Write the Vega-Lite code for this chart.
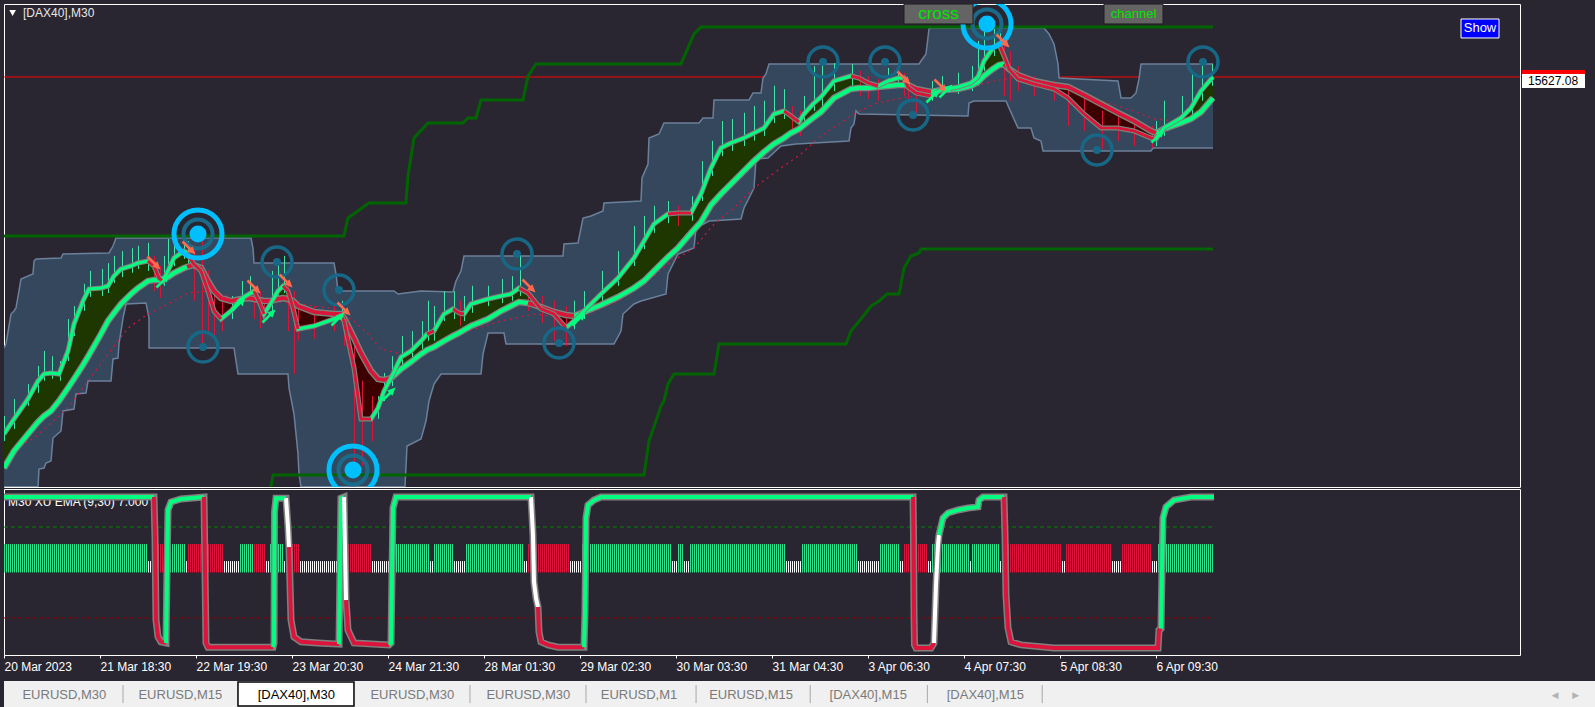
{
"$schema":"https://vega.github.io/schema/vega-lite/v6.json",
"background":"#2a2631",
"padding":{"left":3,"top":3,"right":0,"bottom":0},
"config":{"view":{"stroke":"#ffffff","strokeWidth":1},"axis":{"labelFont":"Liberation Sans","labelFontSize":12,"labelColor":"#e8e8e8","tickColor":"#e8e8e8","domain":false,"grid":false}},
"datasets":{
"bu":[{"i":0,"p":15072.0},{"i":1,"p":15080.3},{"i":3.5,"p":15142.5},{"i":5,"p":15148.8},{"i":6,"p":15155.0},{"i":7.5,"p":15190.3},{"i":8.5,"p":15215.2},{"i":14.5,"p":15225.5},{"i":15,"p":15252.5},{"i":16,"p":15256.7},{"i":28.5,"p":15258.7},{"i":29.5,"p":15267.0},{"i":52.5,"p":15269.1},{"i":54.5,"p":15283.6},{"i":56,"p":15300.2},{"i":123.5,"p":15300.2},{"i":124.5,"p":15279.5},{"i":125,"p":15248.4},{"i":165,"p":15248.4},{"i":166,"p":15225.5},{"i":167,"p":15190.3},{"i":195,"p":15190.3},{"i":197,"p":15184.0},{"i":208.5,"p":15190.3},{"i":224.5,"p":15188.2},{"i":226,"p":15211.0},{"i":228.5,"p":15231.8},{"i":230,"p":15262.9},{"i":279.5,"p":15262.9},{"i":280,"p":15287.8},{"i":287,"p":15289.9},{"i":289.5,"p":15341.7},{"i":293.5,"p":15345.9},{"i":299.5,"p":15356.3},{"i":300,"p":15372.9},{"i":318.5,"p":15377.0},{"i":319,"p":15424.7},{"i":322,"p":15453.8},{"i":322.5,"p":15507.7},{"i":327.5,"p":15516.0},{"i":330,"p":15538.9},{"i":347.5,"p":15538.9},{"i":349.5,"p":15549.2},{"i":354.5,"p":15549.2},{"i":355,"p":15586.6},{"i":372.5,"p":15586.6},{"i":374.5,"p":15601.1},{"i":378.5,"p":15601.1},{"i":379.5,"p":15632.2},{"i":381,"p":15640.5},{"i":382.5,"p":15661.3},{"i":457.5,"p":15661.3},{"i":458.5,"p":15667.5},{"i":461,"p":15682.0},{"i":462.5,"p":15733.9},{"i":463.5,"p":15736.0},{"i":520,"p":15736.0},{"i":522.5,"p":15723.5},{"i":525,"p":15702.8},{"i":527,"p":15661.3},{"i":527.5,"p":15632.2},{"i":557,"p":15626.0},{"i":558.5,"p":15590.7},{"i":563.5,"p":15590.7},{"i":566,"p":15601.1},{"i":567.5,"p":15630.2},{"i":568.5,"p":15661.3},{"i":604.5,"p":15661.3}],
"bl":[{"i":0,"p":14784},{"i":17,"p":14784},{"i":17.5,"p":14820.9},{"i":20,"p":14823.0},{"i":21,"p":14833.4},{"i":23.5,"p":14837.5},{"i":24.5,"p":14885.2},{"i":28.5,"p":14899.8},{"i":29.5,"p":14941.3},{"i":35,"p":14945.4},{"i":36,"p":14976.5},{"i":41,"p":14978.6},{"i":42,"p":15003.5},{"i":53.5,"p":15003.5},{"i":54.5,"p":15049.2},{"i":57,"p":15051.2},{"i":57.5,"p":15080.3},{"i":59.5,"p":15134.2},{"i":61,"p":15163.3},{"i":71,"p":15165.4},{"i":72.5,"p":15134.2},{"i":72.5,"p":15072.0},{"i":115,"p":15072.0},{"i":117,"p":15018.0},{"i":142,"p":15018.0},{"i":142.5,"p":14989.0},{"i":145,"p":14935.0},{"i":147,"p":14852.0},{"i":147.5,"p":14810.5},{"i":148.5,"p":14784},{"i":200.5,"p":14784},{"i":201.5,"p":14868.6},{"i":208.5,"p":14883.2},{"i":211,"p":14920.5},{"i":212.5,"p":14962.0},{"i":215,"p":14997.3},{"i":218.5,"p":15018.0},{"i":238.5,"p":15018.0},{"i":239.5,"p":15059.5},{"i":242,"p":15103.1},{"i":250,"p":15103.1},{"i":251,"p":15080.3},{"i":305,"p":15080.3},{"i":308.5,"p":15107.3},{"i":309.5,"p":15142.5},{"i":315,"p":15163.3},{"i":318.5,"p":15169.5},{"i":331,"p":15184.0},{"i":332,"p":15225.5},{"i":337,"p":15267.0},{"i":345,"p":15279.5},{"i":346,"p":15321.0},{"i":352.5,"p":15335.5},{"i":368.5,"p":15339.7},{"i":370,"p":15362.5},{"i":375,"p":15404.0},{"i":376,"p":15464.2},{"i":382,"p":15466.2},{"i":388.5,"p":15491.1},{"i":396,"p":15495.3},{"i":422.5,"p":15501.5},{"i":423.5,"p":15528.5},{"i":425,"p":15536.8},{"i":426,"p":15563.8},{"i":427.5,"p":15557.5},{"i":482,"p":15553.4},{"i":482.5,"p":15580.4},{"i":485,"p":15584.5},{"i":501,"p":15584.5},{"i":502.5,"p":15570.0},{"i":507,"p":15528.5},{"i":513.5,"p":15528.5},{"i":515,"p":15507.7},{"i":518.5,"p":15501.5},{"i":519.5,"p":15480.8},{"i":573.5,"p":15480.8},{"i":574.5,"p":15487.0},{"i":604.5,"p":15487.0}],
"gu":[{"i":0,"p":15304.4},{"i":170,"p":15304.4},{"i":172,"p":15341.7},{"i":175.5,"p":15352.1},{"i":182.5,"p":15372.9},{"i":201,"p":15372.9},{"i":202,"p":15428.9},{"i":205,"p":15507.7},{"i":212,"p":15538.9},{"i":229.5,"p":15538.9},{"i":232,"p":15549.2},{"i":236,"p":15549.2},{"i":238.5,"p":15586.6},{"i":259.5,"p":15586.6},{"i":262,"p":15636.4},{"i":266,"p":15661.3},{"i":338.5,"p":15661.3},{"i":343.5,"p":15709.0},{"i":345,"p":15723.5},{"i":348.5,"p":15738.1},{"i":604.5,"p":15738.1}],
"gl":[{"i":133.5,"p":14784},{"i":134.5,"p":14808.5},{"i":320,"p":14808.5},{"i":322.5,"p":14879.0},{"i":326,"p":14920.5},{"i":328.5,"p":14951.6},{"i":330,"p":14962.0},{"i":332,"p":14997.3},{"i":335,"p":15018.0},{"i":355,"p":15018.0},{"i":357.5,"p":15080.3},{"i":421,"p":15080.3},{"i":423.5,"p":15107.3},{"i":428.5,"p":15132.2},{"i":433.5,"p":15159.1},{"i":437.5,"p":15169.5},{"i":441.5,"p":15184.0},{"i":447.5,"p":15184.0},{"i":448.5,"p":15204.8},{"i":450,"p":15238.0},{"i":453.5,"p":15262.9},{"i":457.5,"p":15269.1},{"i":458.5,"p":15277.4},{"i":604.5,"p":15277.4}],
"du":[{"i":0,"p":14852.0},{"i":15,"p":14885.2},{"i":32,"p":14947.5},{"i":42,"p":15003.5},{"i":52,"p":15059.5},{"i":62,"p":15113.5},{"i":72,"p":15142.5},{"i":82,"p":15163.3},{"i":92,"p":15186.1},{"i":102,"p":15190.3},{"i":115,"p":15175.7},{"i":132,"p":15169.5},{"i":148.5,"p":15163.3},{"i":165,"p":15152.9},{"i":175,"p":15128.0},{"i":182,"p":15101.0},{"i":188.5,"p":15069.9},{"i":198.5,"p":15059.5},{"i":215,"p":15080.3},{"i":232,"p":15107.3},{"i":248.5,"p":15128.0},{"i":265,"p":15142.5},{"i":282,"p":15134.2},{"i":292,"p":15142.5},{"i":307,"p":15169.5},{"i":320,"p":15204.8},{"i":332,"p":15246.3},{"i":345,"p":15279.5},{"i":355,"p":15329.3},{"i":365,"p":15362.5},{"i":375,"p":15404.0},{"i":388.5,"p":15445.5},{"i":398.5,"p":15474.5},{"i":408.5,"p":15511.9},{"i":425,"p":15557.5},{"i":435,"p":15578.3},{"i":448.5,"p":15590.7},{"i":465,"p":15601.1},{"i":482,"p":15611.5},{"i":495,"p":15626.0},{"i":505,"p":15632.2},{"i":515,"p":15630.2},{"i":532,"p":15611.5},{"i":548.5,"p":15584.5},{"i":565,"p":15563.8},{"i":575,"p":15547.2},{"i":585,"p":15543.0},{"i":604.5,"p":15580.4}],
"ms":[{"i":0,"f":14893.5,"s":14823.0},{"i":5,"f":14924.6,"s":14858.3},{"i":12,"f":14966.2,"s":14893.5},{"i":17,"f":15003.5,"s":14918.4},{"i":20,"f":15018.0,"s":14930.9},{"i":23.5,"f":15020.1,"s":14941.3},{"i":27.5,"f":15018.0,"s":14962.0},{"i":32,"f":15065.8,"s":14989.0},{"i":35,"f":15121.8,"s":15007.7},{"i":39.5,"f":15169.5,"s":15036.7},{"i":42.5,"f":15194.4,"s":15057.5},{"i":48.5,"f":15196.5,"s":15101.0},{"i":52,"f":15200.6,"s":15128.0},{"i":55,"f":15221.4,"s":15144.6},{"i":58.5,"f":15235.9,"s":15163.3},{"i":63.5,"f":15242.1,"s":15184.0},{"i":67,"f":15248.4,"s":15196.5},{"i":72,"f":15252.5,"s":15211.0,"fr":1},{"i":75,"f":15242.1,"s":15213.1,"fr":1},{"i":77.5,"f":15217.2,"s":15213.1,"fr":1},{"i":79.5,"f":15211.0,"s":15215.2,"fr":1},{"i":82,"f":15231.8,"s":15219.3},{"i":85,"f":15258.7,"s":15227.6},{"i":90,"f":15273.3,"s":15238.0},{"i":91.5,"f":15269.1,"s":15240.1,"fr":2,"sr":1},{"i":94.5,"f":15248.4,"s":15244.2,"fr":2,"sr":1,"z":1},{"i":98.5,"f":15231.8,"s":15238.0,"fr":2,"sr":1,"z":1},{"i":102,"f":15190.3,"s":15211.0,"fr":2,"sr":1,"z":1},{"i":105,"f":15148.8,"s":15190.3,"fr":2,"sr":1,"z":1},{"i":108.5,"f":15132.2,"s":15175.7,"fr":2,"sr":1,"z":1},{"i":113.5,"f":15148.8,"s":15169.5,"sr":1,"z":1},{"i":118.5,"f":15173.7,"s":15173.7,"sr":1,"z":1},{"i":122.5,"f":15184.0,"s":15175.7,"sr":1},{"i":125,"f":15190.3,"s":15173.7,"fr":3,"sr":1,"z":2},{"i":127.5,"f":15169.5,"s":15171.6,"fr":3,"sr":1,"z":2},{"i":130,"f":15142.5,"s":15169.5,"fr":3,"sr":1,"z":2},{"i":133.5,"f":15165.4,"s":15169.5,"sr":1,"z":2},{"i":137,"f":15190.3,"s":15173.7,"sr":1,"z":2},{"i":139.5,"f":15200.6,"s":15175.7,"fr":4,"sr":1},{"i":142,"f":15190.3,"s":15173.7,"fr":4,"sr":1,"z":3},{"i":144.5,"f":15155.0,"s":15169.5,"fr":4,"sr":1,"z":3},{"i":147,"f":15111.4,"s":15159.1,"fr":4,"sr":1,"z":3},{"i":155,"f":15117.6,"s":15146.7,"sr":1,"z":3},{"i":165,"f":15132.2,"s":15142.5,"sr":1,"z":3},{"i":168.5,"f":15138.4,"s":15142.5,"fr":5,"sr":1,"z":3},{"i":170,"f":15128.0,"s":15134.2,"fr":5,"sr":1,"z":3},{"i":175,"f":15030.5,"s":15092.7,"fr":5,"sr":1,"z":3},{"i":178.5,"f":14924.6,"s":15061.6,"fr":5,"sr":1,"z":3},{"i":183.5,"f":14924.6,"s":15024.3,"fr":5,"sr":1,"z":3},{"i":187,"f":14947.5,"s":15007.7,"sr":1,"z":3},{"i":190,"f":14982.8,"s":15005.6,"sr":1,"z":3},{"i":193.5,"f":15009.7,"s":15009.7,"sr":1,"z":3},{"i":198.5,"f":15053.3,"s":15028.4},{"i":203.5,"f":15065.8,"s":15042.9},{"i":208.5,"f":15086.5,"s":15059.5},{"i":211.5,"f":15101.0,"s":15067.8,"fr":6},{"i":215,"f":15107.3,"s":15074.0,"fr":6},{"i":220,"f":15142.5,"s":15086.5},{"i":224.5,"f":15152.9,"s":15096.9,"fr":7},{"i":227.5,"f":15144.6,"s":15103.1,"fr":7},{"i":230,"f":15142.5,"s":15109.3,"fr":7},{"i":233.5,"f":15163.3,"s":15117.6},{"i":242,"f":15173.7,"s":15132.2},{"i":248.5,"f":15179.9,"s":15148.8},{"i":253.5,"f":15184.0,"s":15159.1},{"i":257.5,"f":15196.5,"s":15167.4,"fr":8},{"i":262,"f":15186.1,"s":15165.4,"fr":8,"sr":2,"z":4},{"i":268.5,"f":15152.9,"s":15157.0,"fr":8,"sr":2,"z":4},{"i":275,"f":15142.5,"s":15146.7,"fr":8,"sr":2,"z":4},{"i":281,"f":15113.5,"s":15140.5,"fr":8,"sr":2,"z":4},{"i":285,"f":15128.0,"s":15138.4,"sr":2,"z":4},{"i":290,"f":15148.8,"s":15146.7,"z":4},{"i":298.5,"f":15184.0,"s":15161.2},{"i":307,"f":15217.2,"s":15177.8},{"i":315,"f":15258.7,"s":15196.5},{"i":320,"f":15294.0,"s":15211.0},{"i":325,"f":15329.3,"s":15231.8},{"i":332,"f":15350.0,"s":15260.8,"fr":9},{"i":337,"f":15352.1,"s":15279.5,"fr":9},{"i":343.5,"f":15352.1,"s":15310.6,"fr":9},{"i":348.5,"f":15391.5,"s":15333.4},{"i":353.5,"f":15445.5,"s":15368.7},{"i":358.5,"f":15487.0,"s":15391.5},{"i":363.5,"f":15497.4,"s":15412.3},{"i":370,"f":15507.7,"s":15439.3},{"i":375,"f":15518.1,"s":15460.0},{"i":380,"f":15528.5,"s":15478.7},{"i":385,"f":15557.5,"s":15495.3},{"i":390,"f":15563.8,"s":15507.7,"fr":10},{"i":393.5,"f":15553.4,"s":15518.1,"fr":10},{"i":397.5,"f":15540.9,"s":15526.4,"fr":10},{"i":400,"f":15557.5,"s":15534.7},{"i":404.5,"f":15578.3,"s":15549.2},{"i":408.5,"f":15592.8,"s":15561.7},{"i":415,"f":15626.0,"s":15590.7},{"i":423.5,"f":15636.4,"s":15609.4,"fr":11},{"i":427.5,"f":15632.2,"s":15611.5,"fr":11},{"i":432,"f":15621.9,"s":15611.5,"fr":11},{"i":437,"f":15615.6,"s":15613.6,"fr":11},{"i":442,"f":15626.0,"s":15615.6},{"i":447,"f":15632.2,"s":15617.7},{"i":450,"f":15632.2,"s":15617.7,"fr":12,"z":5},{"i":452,"f":15613.6,"s":15617.7,"fr":12,"sr":3,"z":5},{"i":456,"f":15601.1,"s":15609.4,"fr":12,"sr":3,"z":5},{"i":463.5,"f":15594.9,"s":15603.2,"fr":12,"sr":3,"z":5},{"i":468.5,"f":15607.3,"s":15607.3,"z":5},{"i":477,"f":15613.6,"s":15609.4},{"i":483.5,"f":15621.9,"s":15615.6},{"i":487,"f":15634.3,"s":15623.9},{"i":490,"f":15667.5,"s":15636.4},{"i":494.5,"f":15694.5,"s":15650.9},{"i":497.5,"f":15702.8,"s":15659.2,"fr":13},{"i":500,"f":15677.9,"s":15661.3,"fr":13,"sr":4,"z":6},{"i":502.5,"f":15650.9,"s":15650.9,"fr":13,"sr":4,"z":6},{"i":507,"f":15630.2,"s":15638.5,"fr":13,"sr":4,"z":6},{"i":515,"f":15619.8,"s":15626.0,"fr":13,"sr":4,"z":6},{"i":525,"f":15609.4,"s":15617.7,"fr":13,"sr":4,"z":6},{"i":532,"f":15590.7,"s":15613.6,"fr":13,"sr":4,"z":6},{"i":540,"f":15557.5,"s":15597.0,"fr":13,"sr":4,"z":6},{"i":548.5,"f":15528.5,"s":15578.3,"fr":13,"sr":4,"z":6},{"i":557,"f":15528.5,"s":15559.6,"fr":13,"sr":4,"z":6},{"i":565,"f":15522.3,"s":15543.0,"fr":13,"sr":4,"z":6},{"i":573.5,"f":15507.7,"s":15522.3,"fr":13,"sr":4,"z":6},{"i":576,"f":15505.7,"s":15518.1,"fr":13,"sr":4,"z":6},{"i":580,"f":15528.5,"s":15526.4,"z":6},{"i":588.5,"f":15549.2,"s":15538.9},{"i":593.5,"f":15570.0,"s":15547.2},{"i":598.5,"f":15605.3,"s":15561.7},{"i":604.5,"f":15634.3,"s":15590.7}],
"cd":[{"i":0,"h":14931,"l":14879,"c":"g"},{"i":5,"h":14966,"l":14904,"c":"g"},{"i":12,"h":14997,"l":14952,"c":"g"},{"i":17,"h":15035,"l":14979,"c":"g"},{"i":20,"h":15066,"l":15004,"c":"g"},{"i":24,"h":15055,"l":15008,"c":"g"},{"i":28,"h":15045,"l":15004,"c":"g"},{"i":32,"h":15132,"l":15045,"c":"g"},{"i":35,"h":15159,"l":15097,"c":"g"},{"i":40,"h":15205,"l":15149,"c":"g"},{"i":43,"h":15232,"l":15178,"c":"g"},{"i":49,"h":15236,"l":15180,"c":"g"},{"i":52,"h":15248,"l":15186,"c":"g"},{"i":55,"h":15263,"l":15207,"c":"g"},{"i":59,"h":15273,"l":15219,"c":"g"},{"i":64,"h":15279,"l":15228,"c":"g"},{"i":67,"h":15284,"l":15236,"c":"g"},{"i":72,"h":15290,"l":15232,"c":"g"},{"i":75,"h":15263,"l":15190,"c":"r"},{"i":78,"h":15242,"l":15176,"c":"r"},{"i":80,"h":15263,"l":15201,"c":"g"},{"i":82,"h":15298,"l":15215,"c":"g"},{"i":85,"h":15315,"l":15242,"c":"g"},{"i":90,"h":15319,"l":15257,"c":"g"},{"i":92,"h":15294,"l":15248,"c":"g"},{"i":95,"h":15284,"l":15170,"c":"r"},{"i":99,"h":15304,"l":15072,"c":"r"},{"i":102,"h":15232,"l":15107,"c":"r"},{"i":105,"h":15190,"l":15097,"c":"r"},{"i":109,"h":15170,"l":15107,"c":"r"},{"i":114,"h":15180,"l":15132,"c":"g"},{"i":119,"h":15211,"l":15159,"c":"g"},{"i":123,"h":15221,"l":15170,"c":"g"},{"i":125,"h":15201,"l":15132,"c":"r"},{"i":128,"h":15190,"l":15113,"c":"r"},{"i":130,"h":15170,"l":15124,"c":"r"},{"i":134,"h":15232,"l":15149,"c":"g"},{"i":137,"h":15253,"l":15170,"c":"g"},{"i":140,"h":15263,"l":15186,"c":"g"},{"i":142,"h":15201,"l":15107,"c":"r"},{"i":145,"h":15190,"l":15018,"c":"r"},{"i":147,"h":15170,"l":15087,"c":"r"},{"i":155,"h":15159,"l":15091,"c":"r"},{"i":165,"h":15159,"l":15107,"c":"r"},{"i":169,"h":15170,"l":15124,"c":"g"},{"i":170,"h":15149,"l":15076,"c":"r"},{"i":175,"h":15087,"l":14817,"c":"r"},{"i":179,"h":15004,"l":14827,"c":"r"},{"i":184,"h":14972,"l":14879,"c":"r"},{"i":187,"h":14972,"l":14925,"c":"g"},{"i":190,"h":15020,"l":14962,"c":"g"},{"i":194,"h":15055,"l":14993,"c":"g"},{"i":199,"h":15097,"l":15035,"c":"g"},{"i":204,"h":15107,"l":15049,"c":"g"},{"i":209,"h":15128,"l":15070,"c":"g"},{"i":212,"h":15170,"l":15087,"c":"g"},{"i":215,"h":15159,"l":15087,"c":"g"},{"i":220,"h":15190,"l":15128,"c":"g"},{"i":225,"h":15190,"l":15132,"c":"g"},{"i":228,"h":15170,"l":15118,"c":"r"},{"i":230,"h":15180,"l":15128,"c":"g"},{"i":234,"h":15201,"l":15145,"c":"g"},{"i":242,"h":15201,"l":15159,"c":"g"},{"i":249,"h":15215,"l":15165,"c":"g"},{"i":254,"h":15221,"l":15170,"c":"g"},{"i":258,"h":15267,"l":15180,"c":"g"},{"i":262,"h":15201,"l":15149,"c":"r"},{"i":269,"h":15180,"l":15124,"c":"r"},{"i":275,"h":15170,"l":15087,"c":"r"},{"i":281,"h":15159,"l":15076,"c":"r"},{"i":285,"h":15170,"l":15111,"c":"g"},{"i":290,"h":15190,"l":15132,"c":"g"},{"i":299,"h":15232,"l":15170,"c":"g"},{"i":307,"h":15273,"l":15201,"c":"g"},{"i":315,"h":15325,"l":15242,"c":"g"},{"i":320,"h":15346,"l":15277,"c":"g"},{"i":325,"h":15367,"l":15311,"c":"g"},{"i":332,"h":15377,"l":15331,"c":"g"},{"i":337,"h":15367,"l":15325,"c":"r"},{"i":344,"h":15387,"l":15336,"c":"g"},{"i":349,"h":15460,"l":15377,"c":"g"},{"i":354,"h":15502,"l":15429,"c":"g"},{"i":359,"h":15543,"l":15470,"c":"g"},{"i":364,"h":15547,"l":15481,"c":"g"},{"i":370,"h":15560,"l":15491,"c":"g"},{"i":375,"h":15574,"l":15502,"c":"g"},{"i":380,"h":15585,"l":15512,"c":"g"},{"i":385,"h":15616,"l":15539,"c":"g"},{"i":390,"h":15609,"l":15547,"c":"g"},{"i":394,"h":15574,"l":15522,"c":"r"},{"i":398,"h":15564,"l":15512,"c":"r"},{"i":400,"h":15595,"l":15543,"c":"g"},{"i":405,"h":15657,"l":15564,"c":"g"},{"i":409,"h":15663,"l":15574,"c":"g"},{"i":415,"h":15663,"l":15605,"c":"g"},{"i":424,"h":15661,"l":15616,"c":"g"},{"i":428,"h":15647,"l":15595,"c":"r"},{"i":432,"h":15636,"l":15589,"c":"r"},{"i":437,"h":15630,"l":15585,"c":"r"},{"i":442,"h":15653,"l":15609,"c":"g"},{"i":447,"h":15657,"l":15616,"c":"g"},{"i":450,"h":15643,"l":15595,"c":"r"},{"i":452,"h":15630,"l":15585,"c":"r"},{"i":456,"h":15616,"l":15553,"c":"r"},{"i":464,"h":15626,"l":15585,"c":"g"},{"i":469,"h":15636,"l":15595,"c":"g"},{"i":477,"h":15643,"l":15599,"c":"g"},{"i":484,"h":15657,"l":15605,"c":"g"},{"i":487,"h":15709,"l":15616,"c":"g"},{"i":490,"h":15740,"l":15647,"c":"g"},{"i":495,"h":15734,"l":15678,"c":"g"},{"i":498,"h":15736,"l":15684,"c":"g"},{"i":500,"h":15709,"l":15595,"c":"r"},{"i":503,"h":15688,"l":15585,"c":"r"},{"i":507,"h":15657,"l":15605,"c":"r"},{"i":515,"h":15636,"l":15595,"c":"r"},{"i":525,"h":15626,"l":15585,"c":"r"},{"i":532,"h":15616,"l":15533,"c":"r"},{"i":540,"h":15595,"l":15522,"c":"r"},{"i":549,"h":15564,"l":15485,"c":"r"},{"i":557,"h":15553,"l":15502,"c":"r"},{"i":565,"h":15547,"l":15491,"c":"r"},{"i":574,"h":15533,"l":15487,"c":"r"},{"i":576,"h":15543,"l":15491,"c":"g"},{"i":580,"h":15585,"l":15512,"c":"g"},{"i":589,"h":15595,"l":15533,"c":"g"},{"i":594,"h":15647,"l":15553,"c":"g"},{"i":599,"h":15663,"l":15585,"c":"g"},{"i":604,"h":15661,"l":15616,"c":"g"}],
"rg":[{"i":97,"p":15308.5,"t":"B"},{"i":174.5,"p":14818.8,"t":"B"},{"i":491.5,"p":15744.3,"t":"B"},{"i":99.5,"p":15074.0,"t":"S"},{"i":136.5,"p":15250.4,"t":"S"},{"i":167.5,"p":15192.3,"t":"S"},{"i":256.5,"p":15267.0,"t":"S"},{"i":277.5,"p":15082.4,"t":"S"},{"i":409.5,"p":15665.4,"t":"S"},{"i":440.5,"p":15665.4,"t":"S"},{"i":454.5,"p":15555.5,"t":"S"},{"i":546.5,"p":15482.8,"t":"S"},{"i":599.5,"p":15665.4,"t":"S"}],
"ar":[{"i":75,"p":15248.4,"d":"s"},{"i":92.5,"p":15279.5,"d":"s"},{"i":125,"p":15198.6,"d":"s"},{"i":141,"p":15211.0,"d":"s"},{"i":170,"p":15152.9,"d":"s"},{"i":262.5,"p":15200.6,"d":"s"},{"i":450,"p":15632.2,"d":"s"},{"i":468.5,"p":15615.6,"d":"s"},{"i":499.5,"p":15709.0,"d":"s"},{"i":79.5,"p":15211.0,"d":"b"},{"i":117.5,"p":15163.3,"d":"b"},{"i":132.5,"p":15138.4,"d":"b"},{"i":167,"p":15132.2,"d":"b"},{"i":192.5,"p":14976.5,"d":"b"},{"i":287.5,"p":15132.2,"d":"b"},{"i":464.5,"p":15594.9,"d":"b"},{"i":471,"p":15605.3,"d":"b"},{"i":577,"p":15511.9,"d":"b"}],
"osc":[{"i":0,"v":19.9,"s":1,"c":"g"},{"i":75,"v":19.9,"s":1,"c":"g"},{"i":75,"v":19.9,"s":2,"c":"r"},{"i":75.5,"v":9.4,"s":2,"c":"r"},{"i":76,"v":-12.5,"s":2,"c":"r"},{"i":77,"v":-17,"s":2,"c":"r"},{"i":78.5,"v":-18.3,"s":2,"c":"r"},{"i":81,"v":-18.6,"s":2,"c":"r"},{"i":81,"v":-18.6,"s":3,"c":"g"},{"i":81.5,"v":0.7,"s":3,"c":"g"},{"i":82,"v":16.5,"s":3,"c":"g"},{"i":83.5,"v":18.6,"s":3,"c":"g"},{"i":88.5,"v":19.4,"s":3,"c":"g"},{"i":100,"v":19.9,"s":3,"c":"g"},{"i":100,"v":19.9,"s":4,"c":"r"},{"i":100.5,"v":0.7,"s":4,"c":"r"},{"i":101,"v":-18.6,"s":4,"c":"r"},{"i":102,"v":-19.7,"s":4,"c":"r"},{"i":134.5,"v":-19.7,"s":4,"c":"r"},{"i":134.5,"v":-19.7,"s":5,"c":"g"},{"i":135,"v":-18.6,"s":5,"c":"g"},{"i":135.25,"v":16,"s":5,"c":"g"},{"i":136,"v":19.6,"s":5,"c":"g"},{"i":141,"v":19.6,"s":5,"c":"g"},{"i":141,"v":19.6,"s":6,"c":"w"},{"i":142,"v":12,"s":6,"c":"w"},{"i":142.5,"v":6.7,"s":6,"c":"w"},{"i":142.5,"v":6.7,"s":7,"c":"r"},{"i":143.5,"v":-12.5,"s":7,"c":"r"},{"i":145,"v":-17,"s":7,"c":"r"},{"i":148.5,"v":-18.3,"s":7,"c":"r"},{"i":157,"v":-18.6,"s":7,"c":"r"},{"i":167.5,"v":-18.9,"s":7,"c":"r"},{"i":167.5,"v":-18.9,"s":8,"c":"g"},{"i":168,"v":0.7,"s":8,"c":"g"},{"i":168.5,"v":19.6,"s":8,"c":"g"},{"i":170,"v":19.9,"s":8,"c":"g"},{"i":170,"v":19.9,"s":9,"c":"w"},{"i":171,"v":-7.3,"s":9,"c":"w"},{"i":171,"v":-7.3,"s":10,"c":"r"},{"i":172,"v":-15.2,"s":10,"c":"r"},{"i":175,"v":-18.6,"s":10,"c":"r"},{"i":192.5,"v":-19.1,"s":10,"c":"r"},{"i":192.5,"v":-19.1,"s":11,"c":"g"},{"i":193.5,"v":-18.6,"s":11,"c":"g"},{"i":194.5,"v":17,"s":11,"c":"g"},{"i":196,"v":19.9,"s":11,"c":"g"},{"i":263.5,"v":19.9,"s":11,"c":"g"},{"i":263.5,"v":19.9,"s":12,"c":"w"},{"i":264.5,"v":9.9,"s":12,"c":"w"},{"i":265,"v":-2.5,"s":12,"c":"w"},{"i":266,"v":-6.7,"s":12,"c":"w"},{"i":267,"v":-9.1,"s":12,"c":"w"},{"i":267,"v":-9.1,"s":13,"c":"r"},{"i":267.5,"v":-15.7,"s":13,"c":"r"},{"i":268.5,"v":-18.3,"s":13,"c":"r"},{"i":272,"v":-19.1,"s":13,"c":"r"},{"i":277,"v":-19.7,"s":13,"c":"r"},{"i":290,"v":-19.7,"s":13,"c":"r"},{"i":290,"v":-19.7,"s":14,"c":"g"},{"i":290.5,"v":-10.4,"s":14,"c":"g"},{"i":291,"v":14.4,"s":14,"c":"g"},{"i":292,"v":17.8,"s":14,"c":"g"},{"i":295,"v":19.1,"s":14,"c":"g"},{"i":298.5,"v":19.9,"s":14,"c":"g"},{"i":454.5,"v":19.9,"s":14,"c":"g"},{"i":454.5,"v":19.9,"s":15,"c":"r"},{"i":454.75,"v":9.9,"s":15,"c":"r"},{"i":455,"v":-10.4,"s":15,"c":"r"},{"i":455.25,"v":-19.1,"s":15,"c":"r"},{"i":456,"v":-19.9,"s":15,"c":"r"},{"i":463.5,"v":-19.9,"s":15,"c":"r"},{"i":465,"v":-18.6,"s":15,"c":"r"},{"i":465,"v":-18.6,"s":16,"c":"w"},{"i":466,"v":-3.3,"s":16,"c":"w"},{"i":467,"v":7.3,"s":16,"c":"w"},{"i":467.5,"v":9.9,"s":16,"c":"w"},{"i":467.5,"v":9.9,"s":17,"c":"g"},{"i":469.5,"v":14.4,"s":17,"c":"g"},{"i":472,"v":15.7,"s":17,"c":"g"},{"i":477,"v":16.5,"s":17,"c":"g"},{"i":482,"v":17,"s":17,"c":"g"},{"i":487,"v":17.3,"s":17,"c":"g"},{"i":487.5,"v":19.1,"s":17,"c":"g"},{"i":489.5,"v":19.9,"s":17,"c":"g"},{"i":500,"v":19.9,"s":17,"c":"g"},{"i":500,"v":19.9,"s":18,"c":"r"},{"i":500.5,"v":9.9,"s":18,"c":"r"},{"i":501,"v":-6,"s":18,"c":"r"},{"i":502,"v":-14.6,"s":18,"c":"r"},{"i":503.5,"v":-18.3,"s":18,"c":"r"},{"i":508.5,"v":-19.1,"s":18,"c":"r"},{"i":525,"v":-19.9,"s":18,"c":"r"},{"i":577,"v":-19.9,"s":18,"c":"r"},{"i":577.5,"v":-15.2,"s":18,"c":"r"},{"i":578.5,"v":-14.8,"s":18,"c":"r"},{"i":578.5,"v":-14.8,"s":19,"c":"g"},{"i":579,"v":0.7,"s":19,"c":"g"},{"i":579.5,"v":14.4,"s":19,"c":"g"},{"i":581,"v":17.3,"s":19,"c":"g"},{"i":585,"v":19.1,"s":19,"c":"g"},{"i":593.5,"v":19.9,"s":19,"c":"g"},{"i":605,"v":19.9,"s":19,"c":"g"}],
"hist":[
{"i":0,"c":"g"},{"i":1,"c":"g"},{"i":2,"c":"g"},{"i":3,"c":"g"},{"i":4,"c":"g"},{"i":5,"c":"g"},{"i":6,"c":"g"},{"i":7,"c":"g"},{"i":8,"c":"g"},{"i":9,"c":"g"},{"i":10,"c":"g"},{"i":11,"c":"g"},{"i":12,"c":"g"},{"i":13,"c":"g"},{"i":14,"c":"g"},{"i":15,"c":"g"},{"i":16,"c":"g"},{"i":17,"c":"g"},{"i":18,"c":"g"},{"i":19,"c":"g"},{"i":20,"c":"g"},{"i":21,"c":"g"},{"i":22,"c":"g"},{"i":23,"c":"g"},{"i":24,"c":"g"},{"i":25,"c":"g"},{"i":26,"c":"g"},{"i":27,"c":"g"},{"i":28,"c":"g"},{"i":29,"c":"g"},{"i":30,"c":"g"},{"i":31,"c":"g"},{"i":32,"c":"g"},{"i":33,"c":"g"},{"i":34,"c":"g"},{"i":35,"c":"g"},{"i":36,"c":"g"},{"i":37,"c":"g"},{"i":38,"c":"g"},{"i":39,"c":"g"},{"i":40,"c":"g"},{"i":41,"c":"g"},{"i":42,"c":"g"},{"i":43,"c":"g"},{"i":44,"c":"g"},{"i":45,"c":"g"},{"i":46,"c":"g"},{"i":47,"c":"g"},{"i":48,"c":"g"},{"i":49,"c":"g"},{"i":50,"c":"g"},{"i":51,"c":"g"},{"i":52,"c":"g"},{"i":53,"c":"g"},{"i":54,"c":"g"},{"i":55,"c":"g"},{"i":56,"c":"g"},{"i":57,"c":"g"},{"i":58,"c":"g"},{"i":59,"c":"g"},{"i":60,"c":"g"},{"i":61,"c":"g"},{"i":62,"c":"g"},{"i":63,"c":"g"},{"i":64,"c":"g"},{"i":65,"c":"g"},{"i":66,"c":"g"},{"i":67,"c":"g"},{"i":68,"c":"g"},{"i":69,"c":"g"},{"i":70,"c":"g"},{"i":71,"c":"g"},
{"i":72,"c":"w"},{"i":73,"c":"w"},{"i":74,"c":"w"},
{"i":75,"c":"r"},{"i":76,"c":"r"},{"i":77,"c":"r"},{"i":78,"c":"r"},{"i":79,"c":"r"},
{"i":80,"c":"g"},{"i":81,"c":"g"},{"i":82,"c":"g"},{"i":83,"c":"g"},{"i":84,"c":"g"},{"i":85,"c":"g"},{"i":86,"c":"g"},{"i":87,"c":"g"},{"i":88,"c":"g"},{"i":89,"c":"g"},{"i":90,"c":"g"},
{"i":91,"c":"w"},
{"i":92,"c":"r"},{"i":93,"c":"r"},{"i":94,"c":"r"},{"i":95,"c":"r"},{"i":96,"c":"r"},{"i":97,"c":"r"},{"i":98,"c":"r"},{"i":99,"c":"r"},{"i":100,"c":"r"},{"i":101,"c":"r"},{"i":102,"c":"r"},{"i":103,"c":"r"},{"i":104,"c":"r"},{"i":105,"c":"r"},{"i":106,"c":"r"},{"i":107,"c":"r"},{"i":108,"c":"r"},{"i":109,"c":"r"},
{"i":110,"c":"w"},{"i":111,"c":"w"},{"i":112,"c":"w"},{"i":113,"c":"w"},{"i":114,"c":"w"},{"i":115,"c":"w"},{"i":116,"c":"w"},{"i":117,"c":"w"},
{"i":118,"c":"g"},{"i":119,"c":"g"},{"i":120,"c":"g"},{"i":121,"c":"g"},{"i":122,"c":"g"},{"i":123,"c":"g"},{"i":124,"c":"g"},
{"i":125,"c":"r"},{"i":126,"c":"r"},{"i":127,"c":"r"},{"i":128,"c":"r"},{"i":129,"c":"r"},{"i":130,"c":"r"},
{"i":131,"c":"w"},{"i":132,"c":"w"},
{"i":133,"c":"g"},{"i":134,"c":"g"},{"i":135,"c":"g"},{"i":136,"c":"g"},{"i":137,"c":"g"},{"i":138,"c":"g"},{"i":139,"c":"g"},
{"i":140,"c":"w"},
{"i":141,"c":"r"},{"i":142,"c":"r"},{"i":143,"c":"r"},{"i":144,"c":"r"},{"i":145,"c":"r"},{"i":146,"c":"r"},{"i":147,"c":"r"},
{"i":148,"c":"w"},{"i":149,"c":"w"},{"i":150,"c":"w"},{"i":151,"c":"w"},{"i":152,"c":"w"},{"i":153,"c":"w"},{"i":154,"c":"w"},{"i":155,"c":"w"},{"i":156,"c":"w"},{"i":157,"c":"w"},{"i":158,"c":"w"},{"i":159,"c":"w"},{"i":160,"c":"w"},{"i":161,"c":"w"},{"i":162,"c":"w"},{"i":163,"c":"w"},{"i":164,"c":"w"},{"i":165,"c":"w"},{"i":166,"c":"w"},{"i":167,"c":"w"},{"i":168,"c":"w"},{"i":169,"c":"w"},
{"i":170,"c":"r"},{"i":171,"c":"r"},{"i":172,"c":"r"},{"i":173,"c":"r"},{"i":174,"c":"r"},{"i":175,"c":"r"},{"i":176,"c":"r"},{"i":177,"c":"r"},{"i":178,"c":"r"},{"i":179,"c":"r"},{"i":180,"c":"r"},{"i":181,"c":"r"},{"i":182,"c":"r"},{"i":183,"c":"r"},
{"i":184,"c":"w"},{"i":185,"c":"w"},{"i":186,"c":"w"},{"i":187,"c":"w"},{"i":188,"c":"w"},{"i":189,"c":"w"},{"i":190,"c":"w"},{"i":191,"c":"w"},{"i":192,"c":"w"},
{"i":193,"c":"g"},{"i":194,"c":"g"},{"i":195,"c":"g"},{"i":196,"c":"g"},{"i":197,"c":"g"},{"i":198,"c":"g"},{"i":199,"c":"g"},{"i":200,"c":"g"},{"i":201,"c":"g"},{"i":202,"c":"g"},{"i":203,"c":"g"},{"i":204,"c":"g"},{"i":205,"c":"g"},{"i":206,"c":"g"},{"i":207,"c":"g"},{"i":208,"c":"g"},{"i":209,"c":"g"},{"i":210,"c":"g"},{"i":211,"c":"g"},{"i":212,"c":"g"},
{"i":213,"c":"w"},{"i":214,"c":"w"},
{"i":215,"c":"g"},{"i":216,"c":"g"},{"i":217,"c":"g"},{"i":218,"c":"g"},{"i":219,"c":"g"},{"i":220,"c":"g"},{"i":221,"c":"g"},{"i":222,"c":"g"},{"i":223,"c":"g"},{"i":224,"c":"g"},
{"i":225,"c":"w"},{"i":226,"c":"w"},{"i":227,"c":"w"},{"i":228,"c":"w"},{"i":229,"c":"w"},{"i":230,"c":"w"},
{"i":231,"c":"g"},{"i":232,"c":"g"},{"i":233,"c":"g"},{"i":234,"c":"g"},{"i":235,"c":"g"},{"i":236,"c":"g"},{"i":237,"c":"g"},{"i":238,"c":"g"},{"i":239,"c":"g"},{"i":240,"c":"g"},{"i":241,"c":"g"},{"i":242,"c":"g"},{"i":243,"c":"g"},{"i":244,"c":"g"},{"i":245,"c":"g"},{"i":246,"c":"g"},{"i":247,"c":"g"},{"i":248,"c":"g"},{"i":249,"c":"g"},{"i":250,"c":"g"},{"i":251,"c":"g"},{"i":252,"c":"g"},{"i":253,"c":"g"},{"i":254,"c":"g"},{"i":255,"c":"g"},{"i":256,"c":"g"},{"i":257,"c":"g"},{"i":258,"c":"g"},{"i":259,"c":"g"},
{"i":260,"c":"w"},{"i":261,"c":"w"},
{"i":262,"c":"r"},{"i":263,"c":"r"},{"i":264,"c":"r"},{"i":265,"c":"r"},{"i":266,"c":"r"},{"i":267,"c":"r"},{"i":268,"c":"r"},{"i":269,"c":"r"},{"i":270,"c":"r"},{"i":271,"c":"r"},{"i":272,"c":"r"},{"i":273,"c":"r"},{"i":274,"c":"r"},{"i":275,"c":"r"},{"i":276,"c":"r"},{"i":277,"c":"r"},{"i":278,"c":"r"},{"i":279,"c":"r"},{"i":280,"c":"r"},{"i":281,"c":"r"},{"i":282,"c":"r"},
{"i":283,"c":"w"},{"i":284,"c":"w"},{"i":285,"c":"w"},{"i":286,"c":"w"},{"i":287,"c":"w"},{"i":288,"c":"w"},
{"i":289,"c":"g"},{"i":290,"c":"g"},{"i":291,"c":"g"},{"i":292,"c":"g"},{"i":293,"c":"g"},{"i":294,"c":"g"},{"i":295,"c":"g"},{"i":296,"c":"g"},{"i":297,"c":"g"},{"i":298,"c":"g"},{"i":299,"c":"g"},{"i":300,"c":"g"},{"i":301,"c":"g"},{"i":302,"c":"g"},{"i":303,"c":"g"},{"i":304,"c":"g"},{"i":305,"c":"g"},{"i":306,"c":"g"},{"i":307,"c":"g"},{"i":308,"c":"g"},{"i":309,"c":"g"},{"i":310,"c":"g"},{"i":311,"c":"g"},{"i":312,"c":"g"},{"i":313,"c":"g"},{"i":314,"c":"g"},{"i":315,"c":"g"},{"i":316,"c":"g"},{"i":317,"c":"g"},{"i":318,"c":"g"},{"i":319,"c":"g"},{"i":320,"c":"g"},{"i":321,"c":"g"},{"i":322,"c":"g"},{"i":323,"c":"g"},{"i":324,"c":"g"},{"i":325,"c":"g"},{"i":326,"c":"g"},{"i":327,"c":"g"},{"i":328,"c":"g"},{"i":329,"c":"g"},{"i":330,"c":"g"},{"i":331,"c":"g"},{"i":332,"c":"g"},{"i":333,"c":"g"},
{"i":334,"c":"w"},{"i":335,"c":"w"},{"i":336,"c":"w"},
{"i":337,"c":"g"},{"i":338,"c":"g"},{"i":339,"c":"g"},
{"i":340,"c":"w"},{"i":341,"c":"w"},{"i":342,"c":"w"},
{"i":343,"c":"g"},{"i":344,"c":"g"},{"i":345,"c":"g"},{"i":346,"c":"g"},{"i":347,"c":"g"},{"i":348,"c":"g"},{"i":349,"c":"g"},{"i":350,"c":"g"},{"i":351,"c":"g"},{"i":352,"c":"g"},{"i":353,"c":"g"},{"i":354,"c":"g"},{"i":355,"c":"g"},{"i":356,"c":"g"},{"i":357,"c":"g"},{"i":358,"c":"g"},{"i":359,"c":"g"},{"i":360,"c":"g"},{"i":361,"c":"g"},{"i":362,"c":"g"},{"i":363,"c":"g"},{"i":364,"c":"g"},{"i":365,"c":"g"},{"i":366,"c":"g"},{"i":367,"c":"g"},{"i":368,"c":"g"},{"i":369,"c":"g"},{"i":370,"c":"g"},{"i":371,"c":"g"},{"i":372,"c":"g"},{"i":373,"c":"g"},{"i":374,"c":"g"},{"i":375,"c":"g"},{"i":376,"c":"g"},{"i":377,"c":"g"},{"i":378,"c":"g"},{"i":379,"c":"g"},{"i":380,"c":"g"},{"i":381,"c":"g"},{"i":382,"c":"g"},{"i":383,"c":"g"},{"i":384,"c":"g"},{"i":385,"c":"g"},{"i":386,"c":"g"},{"i":387,"c":"g"},{"i":388,"c":"g"},{"i":389,"c":"g"},{"i":390,"c":"g"},
{"i":391,"c":"w"},{"i":392,"c":"w"},{"i":393,"c":"w"},{"i":394,"c":"w"},{"i":395,"c":"w"},{"i":396,"c":"w"},{"i":397,"c":"w"},{"i":398,"c":"w"},
{"i":399,"c":"g"},{"i":400,"c":"g"},{"i":401,"c":"g"},{"i":402,"c":"g"},{"i":403,"c":"g"},{"i":404,"c":"g"},{"i":405,"c":"g"},{"i":406,"c":"g"},{"i":407,"c":"g"},{"i":408,"c":"g"},{"i":409,"c":"g"},{"i":410,"c":"g"},{"i":411,"c":"g"},{"i":412,"c":"g"},{"i":413,"c":"g"},{"i":414,"c":"g"},{"i":415,"c":"g"},{"i":416,"c":"g"},{"i":417,"c":"g"},{"i":418,"c":"g"},{"i":419,"c":"g"},{"i":420,"c":"g"},{"i":421,"c":"g"},{"i":422,"c":"g"},{"i":423,"c":"g"},{"i":424,"c":"g"},{"i":425,"c":"g"},{"i":426,"c":"g"},
{"i":427,"c":"w"},{"i":428,"c":"w"},{"i":429,"c":"w"},{"i":430,"c":"w"},{"i":431,"c":"w"},{"i":432,"c":"w"},{"i":433,"c":"w"},{"i":434,"c":"w"},{"i":435,"c":"w"},{"i":436,"c":"w"},{"i":437,"c":"w"},
{"i":438,"c":"g"},{"i":439,"c":"g"},{"i":440,"c":"g"},{"i":441,"c":"g"},{"i":442,"c":"g"},{"i":443,"c":"g"},{"i":444,"c":"g"},{"i":445,"c":"g"},{"i":446,"c":"g"},{"i":447,"c":"g"},
{"i":448,"c":"w"},{"i":449,"c":"w"},
{"i":450,"c":"r"},{"i":451,"c":"r"},{"i":452,"c":"r"},{"i":453,"c":"r"},{"i":454,"c":"r"},{"i":455,"c":"r"},{"i":456,"c":"r"},{"i":457,"c":"r"},{"i":458,"c":"r"},{"i":459,"c":"r"},{"i":460,"c":"r"},{"i":461,"c":"r"},
{"i":462,"c":"w"},{"i":463,"c":"w"},
{"i":464,"c":"g"},{"i":465,"c":"g"},{"i":466,"c":"g"},{"i":467,"c":"g"},{"i":468,"c":"g"},{"i":469,"c":"g"},{"i":470,"c":"g"},{"i":471,"c":"g"},{"i":472,"c":"g"},{"i":473,"c":"g"},{"i":474,"c":"g"},{"i":475,"c":"g"},{"i":476,"c":"g"},{"i":477,"c":"g"},{"i":478,"c":"g"},{"i":479,"c":"g"},{"i":480,"c":"g"},{"i":481,"c":"g"},{"i":482,"c":"g"},
{"i":483,"c":"w"},
{"i":484,"c":"g"},{"i":485,"c":"g"},{"i":486,"c":"g"},{"i":487,"c":"g"},{"i":488,"c":"g"},{"i":489,"c":"g"},{"i":490,"c":"g"},{"i":491,"c":"g"},{"i":492,"c":"g"},{"i":493,"c":"g"},{"i":494,"c":"g"},{"i":495,"c":"g"},{"i":496,"c":"g"},{"i":497,"c":"g"},
{"i":498,"c":"w"},{"i":499,"c":"w"},{"i":500,"c":"w"},{"i":501,"c":"w"},
{"i":502,"c":"r"},{"i":503,"c":"r"},{"i":504,"c":"r"},{"i":505,"c":"r"},{"i":506,"c":"r"},{"i":507,"c":"r"},{"i":508,"c":"r"},{"i":509,"c":"r"},{"i":510,"c":"r"},{"i":511,"c":"r"},{"i":512,"c":"r"},{"i":513,"c":"r"},{"i":514,"c":"r"},{"i":515,"c":"r"},{"i":516,"c":"r"},{"i":517,"c":"r"},{"i":518,"c":"r"},{"i":519,"c":"r"},{"i":520,"c":"r"},{"i":521,"c":"r"},{"i":522,"c":"r"},{"i":523,"c":"r"},{"i":524,"c":"r"},{"i":525,"c":"r"},{"i":526,"c":"r"},{"i":527,"c":"r"},{"i":528,"c":"r"},
{"i":529,"c":"w"},{"i":530,"c":"w"},
{"i":531,"c":"r"},{"i":532,"c":"r"},{"i":533,"c":"r"},{"i":534,"c":"r"},{"i":535,"c":"r"},{"i":536,"c":"r"},{"i":537,"c":"r"},{"i":538,"c":"r"},{"i":539,"c":"r"},{"i":540,"c":"r"},{"i":541,"c":"r"},{"i":542,"c":"r"},{"i":543,"c":"r"},{"i":544,"c":"r"},{"i":545,"c":"r"},{"i":546,"c":"r"},{"i":547,"c":"r"},{"i":548,"c":"r"},{"i":549,"c":"r"},{"i":550,"c":"r"},{"i":551,"c":"r"},{"i":552,"c":"r"},{"i":553,"c":"r"},
{"i":554,"c":"w"},{"i":555,"c":"w"},{"i":556,"c":"w"},{"i":557,"c":"w"},{"i":558,"c":"w"},
{"i":559,"c":"r"},{"i":560,"c":"r"},{"i":561,"c":"r"},{"i":562,"c":"r"},{"i":563,"c":"r"},{"i":564,"c":"r"},{"i":565,"c":"r"},{"i":566,"c":"r"},{"i":567,"c":"r"},{"i":568,"c":"r"},{"i":569,"c":"r"},{"i":570,"c":"r"},{"i":571,"c":"r"},{"i":572,"c":"r"},{"i":573,"c":"r"},
{"i":574,"c":"w"},{"i":575,"c":"w"},{"i":576,"c":"w"},
{"i":577,"c":"g"},{"i":578,"c":"g"},{"i":579,"c":"g"},{"i":580,"c":"g"},{"i":581,"c":"g"},{"i":582,"c":"g"},{"i":583,"c":"g"},{"i":584,"c":"g"},{"i":585,"c":"g"},{"i":586,"c":"g"},{"i":587,"c":"g"},{"i":588,"c":"g"},{"i":589,"c":"g"},{"i":590,"c":"g"},{"i":591,"c":"g"},{"i":592,"c":"g"},{"i":593,"c":"g"},{"i":594,"c":"g"},{"i":595,"c":"g"},{"i":596,"c":"g"},{"i":597,"c":"g"},{"i":598,"c":"g"},{"i":599,"c":"g"},{"i":600,"c":"g"},{"i":601,"c":"g"},{"i":602,"c":"g"},{"i":603,"c":"g"},{"i":604,"c":"g"}
],
"tabs":[{"k":0,"t":"EURUSD,M30"},{"k":1,"t":"EURUSD,M15"},{"k":2,"t":"[DAX40],M30","a":1},{"k":3,"t":"EURUSD,M30"},{"k":4,"t":"EURUSD,M30"},{"k":4.954,"t":"EURUSD,M1"},{"k":5.92,"t":"EURUSD,M15"},{"k":6.93,"t":"[DAX40],M15"},{"k":7.94,"t":"[DAX40],M15"}]
},
"spacing":8,
"vconcat":[
{"spacing":0,"vconcat":[
{
"width":1516,"height":483,
"resolve":{"scale":{"color":"independent","stroke":"independent","fill":"independent"}},
"encoding":{"x":{"field":"i","type":"quantitative","scale":{"domain":[0,758],"nice":false,"zero":false},"axis":null}},
"layer":[
{"data":{"values":[{"i":0,"i2":758,"p":15634.3}]},"mark":{"type":"rule","color":"#ff0000","strokeWidth":1,"clip":true},"encoding":{"x2":{"field":"i2"},"y":{"field":"p","type":"quantitative","scale":{"domain":[14783.6,15785.7],"nice":false,"zero":false},"axis":null}}},
{"data":{"name":"bu"},"mark":{"type":"area","color":"#34475c","opacity":1,"fillOpacity":1,"clip":true},"encoding":{"y":{"field":"p","type":"quantitative","scale":{"domain":[14783.6,15785.7],"nice":false,"zero":false},"axis":{"orient":"right","values":[15737.95,15535,15432.5,15330,15227.5,15125,15024.55,14922.05,14819.55],"format":".2f","tickSize":4,"labelPadding":3,"title":null}},"y2":{"datum":14783.6}}},
{"data":{"name":"bl"},"mark":{"type":"area","color":"#2a2631","opacity":1,"fillOpacity":1,"clip":true},"encoding":{"y":{"field":"p","type":"quantitative","scale":{"domain":[14783.6,15785.7],"nice":false,"zero":false},"axis":null},"y2":{"datum":14783.6}}},
{"data":{"name":"bu"},"mark":{"type":"line","color":"#6b809b","strokeWidth":1.5,"clip":true},"encoding":{"y":{"field":"p","type":"quantitative","scale":{"domain":[14783.6,15785.7],"nice":false,"zero":false},"axis":null}}},
{"data":{"name":"bl"},"mark":{"type":"line","color":"#6b809b","strokeWidth":1.5,"clip":true},"encoding":{"y":{"field":"p","type":"quantitative","scale":{"domain":[14783.6,15785.7],"nice":false,"zero":false},"axis":null}}},
{"data":{"name":"gu"},"mark":{"type":"line","color":"#006400","strokeWidth":3,"clip":true},"encoding":{"y":{"field":"p","type":"quantitative","scale":{"domain":[14783.6,15785.7],"nice":false,"zero":false},"axis":null}}},
{"data":{"name":"gl"},"mark":{"type":"line","color":"#006400","strokeWidth":3,"clip":true},"encoding":{"y":{"field":"p","type":"quantitative","scale":{"domain":[14783.6,15785.7],"nice":false,"zero":false},"axis":null}}},
{"data":{"name":"du"},"mark":{"type":"line","color":"#dc143c","strokeWidth":1.2,"strokeDash":[2,4],"clip":true},"encoding":{"y":{"field":"p","type":"quantitative","scale":{"domain":[14783.6,15785.7],"nice":false,"zero":false},"axis":null}}},
{"data":{"name":"ms"},"mark":{"type":"area","color":"#1e3600","opacity":1,"clip":true},"encoding":{"y":{"field":"f","type":"quantitative","scale":{"domain":[14783.6,15785.7],"nice":false,"zero":false},"axis":null},"y2":{"field":"s"}}},
{"data":{"name":"ms"},"transform":[{"filter":"isValid(datum.z)"}],"mark":{"type":"area","color":"#3d0000","opacity":1,"clip":true},"encoding":{"y":{"field":"f","type":"quantitative","scale":{"domain":[14783.6,15785.7],"nice":false,"zero":false},"axis":null},"y2":{"field":"s"},"detail":{"field":"z"}}},
{"data":{"name":"cd"},"mark":{"type":"rule","strokeWidth":1,"xOffset":0.5,"clip":true},"encoding":{"y":{"field":"l","type":"quantitative","scale":{"domain":[14783.6,15785.7],"nice":false,"zero":false},"axis":null},"y2":{"field":"h"},"color":{"field":"c","type":"nominal","scale":{"domain":["g","r"],"range":["#3ee8a8","#dc143c"]},"legend":null}}},
{"data":{"name":"ms"},"mark":{"type":"line","color":"#808080","strokeWidth":6.5,"clip":true},"encoding":{"y":{"field":"s","type":"quantitative","scale":{"domain":[14783.6,15785.7],"nice":false,"zero":false},"axis":null}}},
{"data":{"name":"ms"},"mark":{"type":"line","color":"#00ff7f","strokeWidth":4,"clip":true},"encoding":{"y":{"field":"s","type":"quantitative","scale":{"domain":[14783.6,15785.7],"nice":false,"zero":false},"axis":null}}},
{"data":{"name":"ms"},"transform":[{"filter":"isValid(datum.sr)"}],"mark":{"type":"line","color":"#dc143c","strokeWidth":4,"clip":true},"encoding":{"y":{"field":"s","type":"quantitative","scale":{"domain":[14783.6,15785.7],"nice":false,"zero":false},"axis":null},"detail":{"field":"sr"}}},
{"data":{"name":"ms"},"mark":{"type":"line","color":"#808080","strokeWidth":5,"clip":true},"encoding":{"y":{"field":"f","type":"quantitative","scale":{"domain":[14783.6,15785.7],"nice":false,"zero":false},"axis":null}}},
{"data":{"name":"ms"},"mark":{"type":"line","color":"#00ff7f","strokeWidth":3,"clip":true},"encoding":{"y":{"field":"f","type":"quantitative","scale":{"domain":[14783.6,15785.7],"nice":false,"zero":false},"axis":null}}},
{"data":{"name":"ms"},"transform":[{"filter":"isValid(datum.fr)"}],"mark":{"type":"line","color":"#dc143c","strokeWidth":3,"clip":true},"encoding":{"y":{"field":"f","type":"quantitative","scale":{"domain":[14783.6,15785.7],"nice":false,"zero":false},"axis":null},"detail":{"field":"fr"}}},
{"data":{"name":"rg"},"transform":[{"filter":"datum.t=='S'"}],"mark":{"type":"point","shape":"circle","filled":false,"size":900,"stroke":"#176887","strokeWidth":3.5,"opacity":1,"clip":true},"encoding":{"y":{"field":"p","type":"quantitative","scale":{"domain":[14783.6,15785.7],"nice":false,"zero":false},"axis":null}}},
{"data":{"name":"rg"},"transform":[{"filter":"datum.t=='S'"}],"mark":{"type":"point","shape":"circle","filled":true,"size":64,"color":"#176887","opacity":1,"clip":true},"encoding":{"y":{"field":"p","type":"quantitative","scale":{"domain":[14783.6,15785.7],"nice":false,"zero":false},"axis":null}}},
{"data":{"name":"rg"},"transform":[{"filter":"datum.t=='B'"}],"mark":{"type":"point","shape":"circle","filled":false,"size":2304,"stroke":"#00bfff","strokeWidth":5,"opacity":1,"clip":true},"encoding":{"y":{"field":"p","type":"quantitative","scale":{"domain":[14783.6,15785.7],"nice":false,"zero":false},"axis":null}}},
{"data":{"name":"rg"},"transform":[{"filter":"datum.t=='B'"}],"mark":{"type":"point","shape":"circle","filled":false,"size":841,"stroke":"#1a6b8a","strokeWidth":4,"opacity":1,"clip":true},"encoding":{"y":{"field":"p","type":"quantitative","scale":{"domain":[14783.6,15785.7],"nice":false,"zero":false},"axis":null}}},
{"data":{"name":"rg"},"transform":[{"filter":"datum.t=='B'"}],"mark":{"type":"point","shape":"circle","filled":true,"size":289,"color":"#00bfff","opacity":1,"clip":true},"encoding":{"y":{"field":"p","type":"quantitative","scale":{"domain":[14783.6,15785.7],"nice":false,"zero":false},"axis":null}}},
{"data":{"name":"ar"},"transform":[{"filter":"datum.d=='s'"}],"mark":{"type":"point","shape":"arrow","filled":true,"size":340,"angle":135,"color":"#ff6a4d","opacity":1,"clip":true},"encoding":{"y":{"field":"p","type":"quantitative","scale":{"domain":[14783.6,15785.7],"nice":false,"zero":false},"axis":null}}},
{"data":{"name":"ar"},"transform":[{"filter":"datum.d=='b'"}],"mark":{"type":"point","shape":"arrow","filled":true,"size":340,"angle":45,"color":"#00ff7f","opacity":1,"clip":true},"encoding":{"y":{"field":"p","type":"quantitative","scale":{"domain":[14783.6,15785.7],"nice":false,"zero":false},"axis":null}}},
{"data":{"values":[{"i":450,"i2":484.5,"p":15785.6,"p2":15744.3,"t":"cross"},{"i":550,"i2":579.5,"p":15785.6,"p2":15744.3,"t":"channel"},{"i":728.5,"i2":747.5,"p":15754.6,"p2":15715.2,"t":"Show"}]},"mark":{"type":"rect","strokeWidth":1,"clip":true},"encoding":{"x2":{"field":"i2"},"y":{"field":"p","type":"quantitative","scale":{"domain":[14783.6,15785.7],"nice":false,"zero":false},"axis":null},"y2":{"field":"p2"},"fill":{"field":"t","type":"nominal","scale":{"domain":["cross","channel","Show"],"range":["#646464","#646464","#0000ff"]},"legend":null},"stroke":{"field":"t","type":"nominal","scale":{"domain":["cross","channel","Show"],"range":["#1e1e1e","#1e1e1e","#ffffff"]},"legend":null}}},
{"data":{"values":[{"i":467.25,"p":15764,"t":"cross"}]},"mark":{"type":"text","font":"Liberation Sans","fontSize":17,"color":"#00e600","align":"center","baseline":"middle"},"encoding":{"y":{"field":"p","type":"quantitative","scale":{"domain":[14783.6,15785.7],"nice":false,"zero":false},"axis":null},"text":{"field":"t"}}},
{"data":{"values":[{"i":564.75,"p":15764,"t":"channel"},{"i":738,"p":15735,"t":"Show"}]},"mark":{"type":"text","font":"Liberation Sans","fontSize":13,"align":"center","baseline":"middle"},"encoding":{"y":{"field":"p","type":"quantitative","scale":{"domain":[14783.6,15785.7],"nice":false,"zero":false},"axis":null},"text":{"field":"t"},"color":{"field":"t","type":"nominal","scale":{"domain":["channel","Show"],"range":["#00e600","#ffffff"]},"legend":null}}},
{"data":{"values":[{"i":9.5,"p":15767,"t":"[DAX40],M30"}]},"mark":{"type":"text","font":"Liberation Sans","fontSize":12,"color":"#e6e6e6","align":"left","baseline":"middle"},"encoding":{"y":{"field":"p","type":"quantitative","scale":{"domain":[14783.6,15785.7],"nice":false,"zero":false},"axis":null},"text":{"field":"t"}}},
{"data":{"values":[{"i":4.3,"p":15767}]},"mark":{"type":"point","shape":"triangle-down","filled":true,"size":45,"color":"#ffffff","opacity":1},"encoding":{"y":{"field":"p","type":"quantitative","scale":{"domain":[14783.6,15785.7],"nice":false,"zero":false},"axis":null}}},
{"data":{"values":[{"i":759,"i2":790.5,"p":15648.8,"p2":15640.5,"c":"pr"},{"i":759,"i2":790.5,"p":15640.5,"p2":15611.5,"c":"pw"}]},"mark":{"type":"rect"},"encoding":{"x2":{"field":"i2"},"y":{"field":"p","type":"quantitative","scale":{"domain":[14783.6,15785.7],"nice":false,"zero":false},"axis":null},"y2":{"field":"p2"},"color":{"field":"c","type":"nominal","scale":{"domain":["pr","pw"],"range":["#ff0000","#ffffff"]},"legend":null}}},
{"data":{"values":[{"i":762,"p":15626,"t":"15627.08"}]},"mark":{"type":"text","font":"Liberation Sans","fontSize":12,"color":"#000000","align":"left","baseline":"middle"},"encoding":{"y":{"field":"p","type":"quantitative","scale":{"domain":[14783.6,15785.7],"nice":false,"zero":false},"axis":null},"text":{"field":"t"}}}
]
},
{
"width":1516,"height":166,
"resolve":{"scale":{"color":"independent"}},
"encoding":{"x":{"field":"i","type":"quantitative","scale":{"domain":[0,758],"nice":false,"zero":false},"axis":{"orient":"bottom","values":[0,48,96,144,192,240,288,336,384,432,480,528,576],"labelExpr":"['20 Mar 2023','21 Mar 18:30','22 Mar 19:30','23 Mar 20:30','24 Mar 21:30','28 Mar 01:30','29 Mar 02:30','30 Mar 03:30','31 Mar 04:30','3 Apr 06:30','4 Apr 07:30','5 Apr 08:30','6 Apr 09:30'][round(datum.value/48)]","labelAlign":"left","labelFlush":false,"labelOverlap":false,"tickSize":3,"labelPadding":3,"labelColor":"#ffffff","tickColor":"#ffffff","title":null}}},
"layer":[
{"data":{"values":[{"i":0,"i2":604.5,"v":12,"c":"lg"},{"i":0,"i2":604.5,"v":-12,"c":"lr"}]},"mark":{"type":"rule","strokeWidth":1,"strokeDash":[4,3],"clip":true},"encoding":{"x2":{"field":"i2"},"y":{"field":"v","type":"quantitative","scale":{"domain":[-21.77,22.03],"nice":false,"zero":false},"axis":{"orient":"right","values":[20,0,-20],"labelExpr":"datum.value==0?'0.00':(datum.value>0?'20':'-20')","tickSize":3,"labelPadding":2,"title":null}},"color":{"field":"c","type":"nominal","scale":{"domain":["lg","lr"],"range":["#008000","#8b0000"]},"legend":null}}},
{"data":{"name":"hist"},"transform":[{"filter":"datum.c!='w'"}],"mark":{"type":"rule","strokeWidth":1,"xOffset":0.5,"clip":true},"encoding":{"y":{"datum":7.5,"type":"quantitative","scale":{"domain":[-21.77,22.03],"nice":false,"zero":false},"axis":null},"y2":{"datum":0},"color":{"field":"c","type":"nominal","scale":{"domain":["g","r"],"range":["#2ee38e","#dc143c"]},"legend":null}}},
{"data":{"name":"hist"},"transform":[{"filter":"datum.c=='w'"}],"mark":{"type":"rule","strokeWidth":1,"xOffset":0.5,"color":"#ffffff","clip":true},"encoding":{"y":{"datum":3,"type":"quantitative","scale":{"domain":[-21.77,22.03],"nice":false,"zero":false},"axis":null},"y2":{"datum":0}}},
{"data":{"values":[{"i":2,"v":18.6,"t":"M30 XU EMA (9,30) 7.000"}]},"mark":{"type":"text","font":"Liberation Sans","fontSize":12,"color":"#ffffff","align":"left","baseline":"middle"},"encoding":{"y":{"field":"v","type":"quantitative","scale":{"domain":[-21.77,22.03],"nice":false,"zero":false},"axis":null},"text":{"field":"t"}}},
{"data":{"name":"osc"},"mark":{"type":"line","color":"#808080","strokeWidth":7,"clip":true},"encoding":{"y":{"field":"v","type":"quantitative","scale":{"domain":[-21.77,22.03],"nice":false,"zero":false},"axis":null}}},
{"data":{"name":"osc"},"mark":{"type":"line","strokeWidth":4,"clip":true},"encoding":{"y":{"field":"v","type":"quantitative","scale":{"domain":[-21.77,22.03],"nice":false,"zero":false},"axis":null},"detail":{"field":"s"},"color":{"field":"c","type":"nominal","scale":{"domain":["g","r","w"],"range":["#00ff7f","#dc143c","#ffffff"]},"legend":null}}}
]
}
]},
{
"width":1592,"height":27,
"view":{"fill":"#f0f0f0","stroke":null},
"encoding":{"x":{"field":"k","type":"quantitative","scale":{"domain":[-0.52,13.204],"nice":false,"zero":false},"axis":null}},
"layer":[
{"data":{"values":[{"k":1.497,"k2":2.497,"y":0.074,"y2":0.963}]},"mark":{"type":"rect","fill":"#ffffff","stroke":"#000000","strokeWidth":1.5,"clip":true},"encoding":{"x2":{"field":"k2"},"y":{"field":"y","type":"quantitative","scale":{"domain":[0,1],"nice":false,"zero":false},"axis":null},"y2":{"field":"y2"}}},
{"data":{"values":[{"k":0.506},{"k":3.497},{"k":4.497},{"k":5.446},{"k":6.43},{"k":7.44},{"k":8.43}]},"mark":{"type":"rule","color":"#a8a8a8","strokeWidth":1,"clip":true},"encoding":{"y":{"datum":0.18,"type":"quantitative","scale":{"domain":[0,1],"nice":false,"zero":false},"axis":null},"y2":{"datum":0.85}}},
{"data":{"name":"tabs"},"transform":[{"filter":"datum.a!=1"}],"mark":{"type":"text","font":"Liberation Sans","fontSize":13,"color":"#7a7a7a","align":"center","baseline":"middle"},"encoding":{"y":{"datum":0.5,"type":"quantitative","scale":{"domain":[0,1],"nice":false,"zero":false},"axis":null},"text":{"field":"t"}}},
{"data":{"name":"tabs"},"transform":[{"filter":"datum.a==1"}],"mark":{"type":"text","font":"Liberation Sans","fontSize":13,"color":"#000000","align":"center","baseline":"middle"},"encoding":{"y":{"datum":0.5,"type":"quantitative","scale":{"domain":[0,1],"nice":false,"zero":false},"axis":null},"text":{"field":"t"}}},
{"data":{"values":[{"k":12.85,"t":"◀"},{"k":13.03,"t":"▶"}]},"mark":{"type":"text","font":"DejaVu Sans","fontSize":9,"color":"#b4b4b4","align":"center","baseline":"middle"},"encoding":{"y":{"datum":0.5,"type":"quantitative","scale":{"domain":[0,1],"nice":false,"zero":false},"axis":null},"text":{"field":"t"}}}
]
}
]
}
